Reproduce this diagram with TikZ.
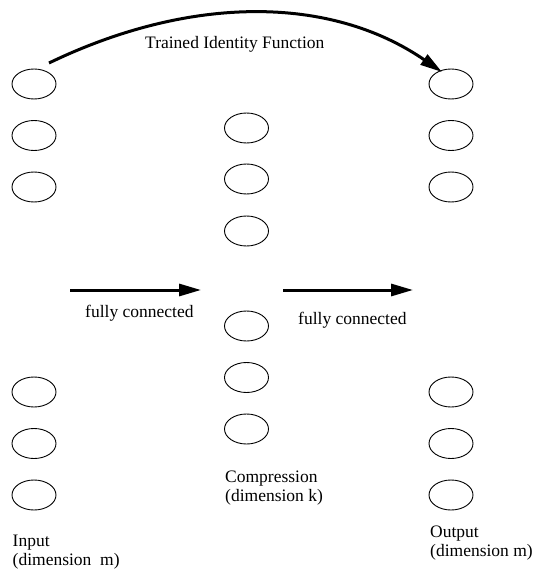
\documentclass[tikz,border=0pt]{standalone}
\usepackage{fontspec}
\setmainfont{Liberation Serif}
\usetikzlibrary{shapes.geometric,arrows.meta}
\begin{document}
\begin{tikzpicture}[x=1pt,y=-1pt,
  unit/.style={ellipse,draw,line width=0.9pt,minimum width=44pt,minimum height=30pt,inner sep=0pt},
  lbl/.style={anchor=base west,inner sep=0pt,font=\fontsize{17.5}{20}\selectfont},
  bigarrow/.style={line width=3pt,-{Triangle[length=22pt,width=12pt]}}]
\useasboundingbox (0,0) rectangle (534,569);
% input layer
\node[unit] (in1) at (34,84) {};
\node[unit] (in2) at (34,135.5) {};
\node[unit] (in3) at (34,187) {};
\node[unit] (in4) at (34,392) {};
\node[unit] (in5) at (34,443.5) {};
\node[unit] (in6) at (34,495) {};
% compression layer
\node[unit] (mid1) at (246.5,128) {};
\node[unit] (mid2) at (246.5,179) {};
\node[unit] (mid3) at (246.5,231) {};
\node[unit] (mid4) at (246.5,326) {};
\node[unit] (mid5) at (246.5,377.5) {};
\node[unit] (mid6) at (246.5,429) {};
% output layer
\node[unit] (out1) at (451,84) {};
\node[unit] (out2) at (451,135.5) {};
\node[unit] (out3) at (451,187) {};
\node[unit] (out4) at (451,392) {};
\node[unit] (out5) at (451,443.5) {};
\node[unit] (out6) at (451,495) {};
% arrows
\coordinate (arcS) at (49,63);
\coordinate (arcE) at (442,72);
\draw[bigarrow] (arcS) .. controls (190,-5) and (330,-5) .. (arcE);
\coordinate (f1S) at (70,290);
\coordinate (f1E) at (201,290);
\coordinate (f2S) at (283,290);
\coordinate (f2E) at (413,290);
\draw[bigarrow] (f1S) -- (f1E);
\draw[bigarrow] (f2S) -- (f2E);
% labels
\node[lbl] (tif) at (145,48.5) {Trained Identity Function};
\node[lbl] (fc1) at (85,317) {fully connected};
\node[lbl] (fc2) at (298,324.5) {fully connected};
\node[lbl] (inA) at (12.5,546) {Input};
\node[lbl] (inB) at (12.5,565) {(dimension\ \ m)};
\node[lbl] (cmA) at (225,482) {Compression};
\node[lbl] (cmB) at (225,501) {(dimension k)};
\node[lbl] (outA) at (430,537) {Output};
\node[lbl] (outB) at (430,556) {(dimension m)};
\end{tikzpicture}
\end{document}
